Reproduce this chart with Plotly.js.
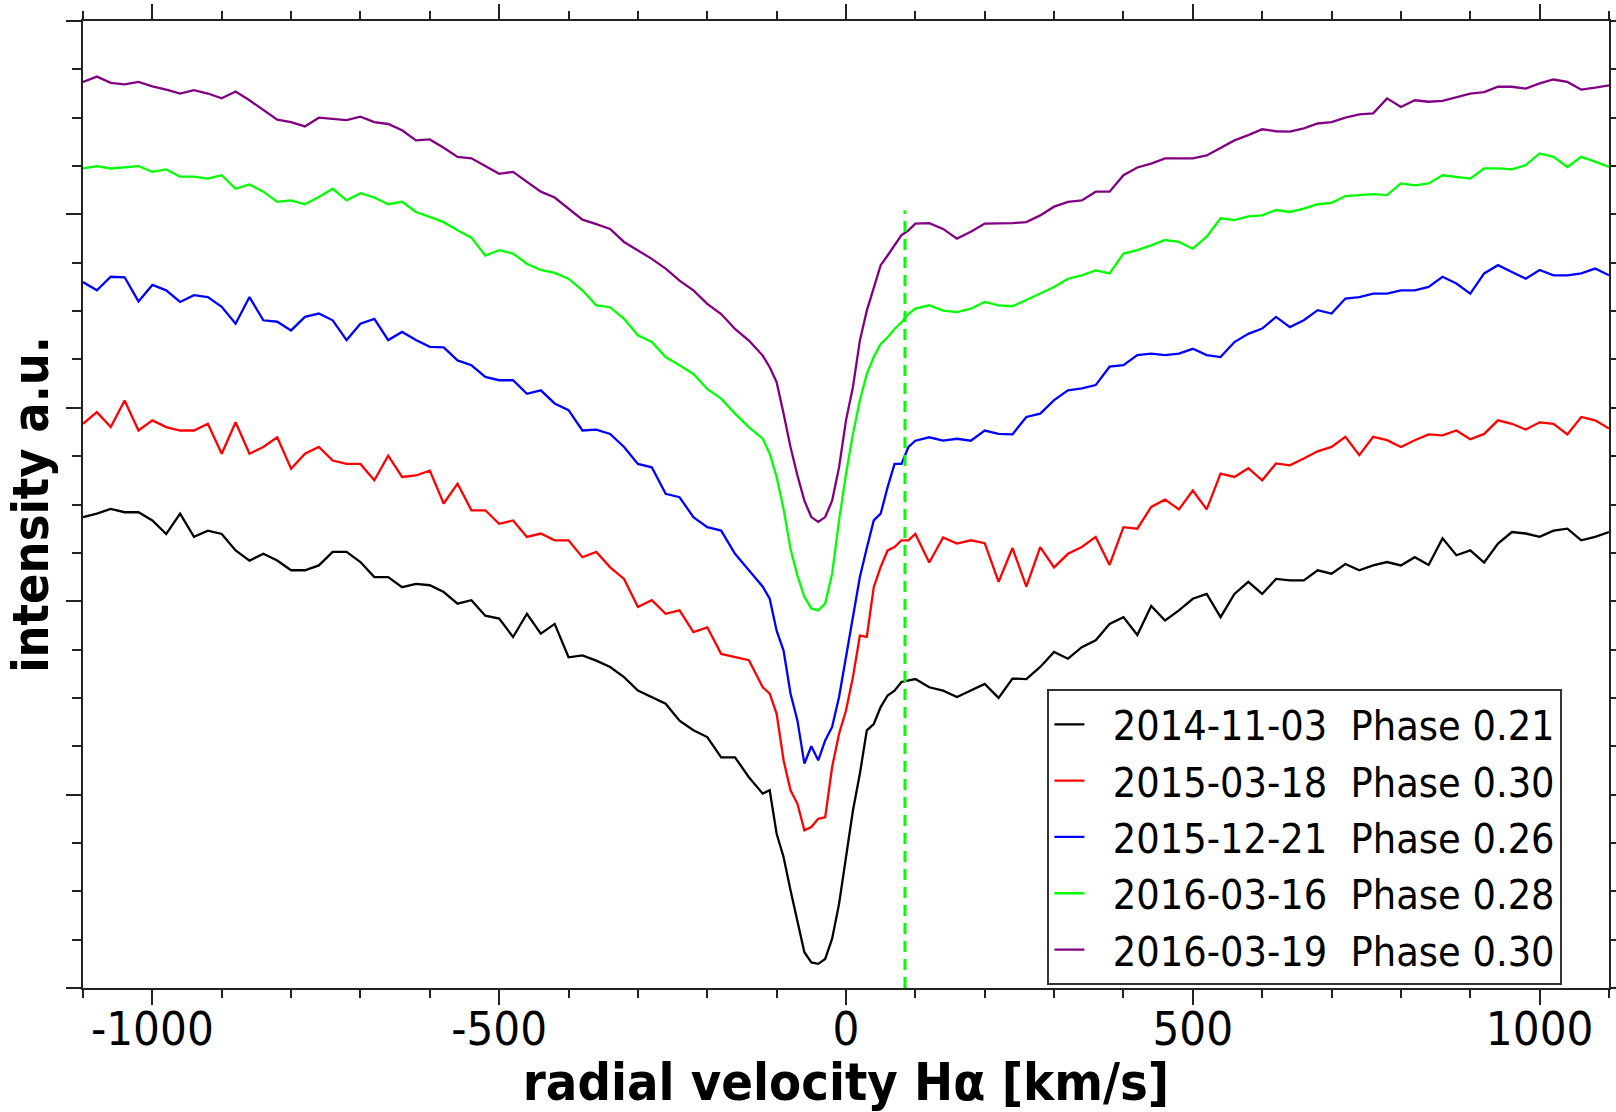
<!DOCTYPE html>
<html>
<head>
<meta charset="utf-8">
<script src="https://cdn.plot.ly/plotly-3.0.1.min.js"></script>
<style>html,body{margin:0;padding:0;background:#fff;}</style>
</head>
<body>
<div id="chart" style="width:1616px;height:1112px;"></div>
<script>
// radial velocity grid (km/s)
const velocity = [
-1100,-1080,-1060,-1040,-1020,-1000,-980,-960,-940,-920,-900,-880,-860,-840,-820,-800,-780,-760,-740,-720,
-700,-680,-660,-640,-620,-600,-580,-560,-540,-520,-500,-480,-460,-440,-420,-400,-380,-360,
-340,-320,-300,-280,-260,-240,-220,-200,-180,-160,-140,-120,
-110,-100,-90,-80,-70,-60,-50,-40,-30,-20,-10,0,10,20,30,40,50,60,70,80,90,100,
120,140,160,180,200,220,240,260,280,300,320,340,360,380,400,420,440,460,480,500,
520,540,560,580,600,620,640,660,680,700,720,740,760,780,800,820,840,860,880,900,
920,940,960,980,1000,1020,1040,1060,1080,1100];

// intensity (a.u., offset spectra)
const spec_20141103 = [
9.74,9.81,9.91,9.84,9.84,9.67,9.39,9.81,9.33,9.46,9.39,9.05,8.84,8.98,8.84,8.64,8.64,8.74,9.02,9.02,
8.81,8.50,8.50,8.29,8.36,8.33,8.19,7.95,8.02,7.70,7.64,7.26,7.74,7.33,7.53,6.84,6.88,6.77,
6.64,6.43,6.15,6.02,5.88,5.53,5.33,5.19,4.77,4.77,4.36,4.02,
4.09,3.19,2.71,2.02,1.36,0.74,0.53,0.50,0.60,1.02,1.74,2.71,3.67,4.43,5.33,5.46,5.81,6.05,6.15,6.33,6.36,6.39,
6.22,6.15,6.02,6.15,6.29,6.00,6.40,6.39,6.64,6.95,6.81,7.05,7.19,7.53,7.67,7.30,7.90,7.60,7.81,8.05,
8.15,7.67,8.15,8.40,8.15,8.46,8.43,8.43,8.64,8.57,8.77,8.64,8.74,8.81,8.74,8.91,8.75,9.30,8.95,9.05,
8.80,9.19,9.43,9.40,9.33,9.46,9.50,9.26,9.33,9.43];

const spec_20150318 = [
11.67,11.91,11.60,12.15,11.53,11.74,11.60,11.53,11.53,11.67,11.05,11.70,11.05,11.19,11.39,10.74,11.05,11.19,10.91,10.84,
10.84,10.50,11.01,10.57,10.60,10.70,10.02,10.43,9.88,9.88,9.60,9.67,9.33,9.40,9.26,9.26,8.91,9.02,
8.70,8.46,7.88,8.02,7.74,7.81,7.36,7.46,6.91,6.84,6.78,6.22,
6.09,5.67,4.71,4.09,3.81,3.26,3.33,3.50,3.53,4.57,5.26,5.74,6.43,7.29,7.26,8.29,8.71,9.05,9.12,9.26,9.26,9.39,
8.80,9.32,9.19,9.26,9.20,8.40,9.10,8.30,9.12,8.70,8.98,9.12,9.33,8.75,9.53,9.50,9.95,10.10,9.90,10.29,
9.90,10.64,10.57,10.75,10.50,10.85,10.81,10.95,11.10,11.19,11.40,11.02,11.40,11.33,11.19,11.33,11.45,11.43,11.53,11.35,
11.46,11.74,11.67,11.55,11.70,11.67,11.45,11.81,11.74,11.57];

const spec_20151221 = [
14.60,14.43,14.71,14.70,14.20,14.54,14.43,14.19,14.33,14.29,14.09,13.74,14.29,13.81,13.78,13.60,13.88,13.95,13.81,13.40,
13.74,13.84,13.40,13.57,13.40,13.26,13.25,12.98,12.88,12.64,12.57,12.57,12.29,12.36,12.09,11.95,11.53,11.55,
11.46,11.19,10.84,10.77,10.22,10.15,9.74,9.53,9.46,8.98,8.64,8.30,
8.05,7.39,6.98,6.09,5.53,4.64,5.00,4.71,5.12,5.40,6.02,6.84,7.60,8.50,9.10,9.67,9.81,10.36,10.84,10.84,11.19,11.32,
11.39,11.32,11.36,11.32,11.53,11.46,11.45,11.81,11.88,12.16,12.36,12.40,12.47,12.85,12.88,13.09,13.12,13.09,13.12,13.22,
13.09,13.05,13.36,13.53,13.64,13.88,13.67,13.81,14.02,13.95,14.26,14.29,14.36,14.36,14.43,14.43,14.50,14.71,14.57,14.36,
14.78,14.95,14.81,14.67,14.85,14.74,14.74,14.78,14.88,14.74];

const spec_20160316 = [
16.95,17.00,16.95,16.97,17.00,16.88,16.93,16.78,16.78,16.74,16.81,16.53,16.62,16.47,16.26,16.29,16.21,16.36,16.53,16.29,
16.44,16.35,16.21,16.26,16.05,15.95,15.84,15.67,15.52,15.15,15.26,15.19,14.98,14.85,14.79,14.67,14.43,14.12,
14.08,13.84,13.50,13.36,13.05,12.88,12.70,12.39,12.19,11.88,11.60,11.36,
11.05,10.57,9.91,9.08,8.53,8.09,7.85,7.81,7.95,8.57,9.67,10.63,11.46,12.15,12.70,13.05,13.32,13.46,13.63,13.77,13.94,14.05,
14.12,14.01,13.98,14.05,14.19,14.12,14.10,14.23,14.36,14.50,14.67,14.74,14.84,14.78,15.19,15.26,15.36,15.47,15.43,15.29,
15.54,15.92,15.88,15.96,15.98,16.09,16.05,16.12,16.21,16.24,16.38,16.40,16.42,16.40,16.64,16.60,16.64,16.81,16.78,16.74,
16.95,16.95,16.93,17.02,17.26,17.19,16.98,17.19,17.09,16.98];

const spec_20160319 = [
18.74,18.85,18.72,18.69,18.74,18.65,18.58,18.50,18.57,18.50,18.40,18.54,18.36,18.16,17.96,17.91,17.82,18.00,17.98,17.95,
18.02,17.91,17.87,17.74,17.53,17.55,17.38,17.19,17.16,17.00,16.84,16.88,16.67,16.47,16.35,16.12,15.89,15.80,
15.70,15.43,15.26,15.08,14.88,14.63,14.43,14.15,13.94,13.63,13.39,13.08,
12.84,12.53,11.88,11.19,10.60,10.08,9.74,9.64,9.74,10.08,10.77,11.74,12.43,13.39,14.01,14.46,14.95,15.15,15.36,15.57,15.67,15.81,
15.82,15.70,15.50,15.64,15.81,15.81,15.82,15.84,15.98,16.16,16.26,16.29,16.47,16.47,16.81,16.97,17.05,17.16,17.16,17.16,
17.22,17.38,17.53,17.64,17.76,17.72,17.71,17.78,17.88,17.91,18.00,18.07,18.09,18.40,18.22,18.36,18.33,18.35,18.42,18.50,
18.53,18.64,18.64,18.60,18.71,18.79,18.74,18.58,18.62,18.67];

const obsDates = ["2014-11-03","2015-03-18","2015-12-21","2016-03-16","2016-03-19"];
const phases = ["0.21","0.30","0.26","0.28","0.30"];
const seriesColors = ["#000000","#ff0000","#0000ff","#00ff00","#800080"];
const allSpectra = [spec_20141103, spec_20150318, spec_20151221, spec_20160316, spec_20160319];

// vertical marker (dashed green line)
const markerVelocity = [85, 85];
const markerIntensity = [0, 16.08];

const xTickVals = [-1000, -500, 0, 500, 1000];
const xTickText = ["-1000", "-500", "0", "500", "1000"];

const FONT = "'DejaVu Sans Condensed', 'DejaVu Sans', sans-serif";
const NB = "\u00A0";

const traces = allSpectra.map((ys, i) => ({
  x: velocity, y: ys, type: "scatter", mode: "lines",
  name: NB + NB + obsDates[i] + NB + NB + "Phase" + NB + phases[i],
  line: {color: seriesColors[i], width: 2.3}
}));
traces.push({
  x: markerVelocity, y: markerIntensity, type: "scatter", mode: "lines",
  showlegend: false, hoverinfo: "skip",
  line: {color: "#00ff00", width: 3, dash: "11px,7px"}
});

const axisCol = "#222222";
const layout = {
  width: 1616, height: 1112,
  margin: {l: 83, r: 7, t: 21, b: 124},
  paper_bgcolor: "#ffffff", plot_bgcolor: "#ffffff",
  font: {family: FONT, color: "#000000"},
  showlegend: true,
  xaxis: {
    range: [-1100, 1100], showgrid: false, zeroline: false,
    showline: true, linecolor: axisCol, linewidth: 2, mirror: "ticks",
    tickmode: "array", tickvals: xTickVals, ticktext: xTickText,
    ticks: "outside", ticklen: 15, tickwidth: 2, tickcolor: axisCol,
    ticklabelstandoff: -16,
    tickfont: {family: FONT, size: 47, color: "#000000"},
    minor: {ticks: "outside", ticklen: 8, tickwidth: 2, tickcolor: axisCol, tickmode: "linear", tick0: 0, dtick: 100},
    title: {text: "radial velocity Hα [km/s]", standoff: 24,
            font: {family: FONT, size: 52, weight: "bold", color: "#000000"}}
  },
  yaxis: {
    range: [0, 20], showgrid: false, zeroline: false,
    showline: true, linecolor: axisCol, linewidth: 2, mirror: "ticks",
    tickmode: "linear", tick0: 0, dtick: 4, showticklabels: false,
    ticks: "outside", ticklen: 15, tickwidth: 2, tickcolor: axisCol,
    minor: {ticks: "outside", ticklen: 9, tickwidth: 2, tickcolor: axisCol, tickmode: "linear", tick0: 0, dtick: 1},
    title: {text: "intensity a.u.", standoff: 2,
            font: {family: FONT, size: 50, weight: "bold", color: "#000000"}}
  },
  legend: {
    x: 0.632, y: 0.309, xanchor: "left", yanchor: "top",
    bgcolor: "#ffffff", bordercolor: "#333333", borderwidth: 2,
    font: {family: FONT, size: 41, color: "#000000"},
    tracegroupgap: 0
  }
};

Plotly.newPlot("chart", traces, layout, {staticPlot: true, displayModeBar: false});
</script>
</body>
</html>
